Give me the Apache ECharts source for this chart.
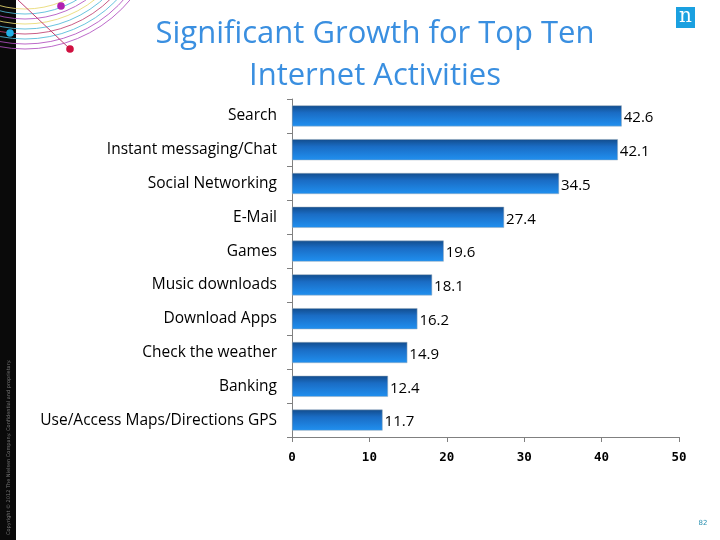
<!DOCTYPE html>
<html><head><meta charset="utf-8">
<script src="https://cdn.jsdelivr.net/npm/echarts@6/dist/echarts.min.js"></script>
<style>html,body{margin:0;padding:0;background:#fff}#c{width:720px;height:540px}</style>
</head><body><div id="c"></div>
<script>
const categories = ["Search","Instant messaging/Chat","Social Networking","E-Mail","Games","Music downloads","Download Apps","Check the weather","Banking","Use/Access Maps/Directions GPS"];
const values = [42.6,42.1,34.5,27.4,19.6,18.1,16.2,14.9,12.4,11.7];
const xTicks = [0,10,20,30,40,50];

const chart = echarts.init(document.getElementById('c'), null, {renderer:'canvas'});
const arcColors = ['#e8d870','#4fb8d8','#b04fc0','#e8d870','#4fb8d8','#c04070','#4fb8d8','#b04fc0','#b04fc0'];
const arcs = arcColors.map((col,i)=>({
  type:'arc', silent:true,
  shape:{cx:25, cy:-88, r:97+i*5, startAngle:0, endAngle:Math.PI},
  style:{stroke:col, lineWidth:1, fill:null, opacity:0.85}
}));
chart.setOption({
  animation:false,
  title:{text:'Significant Growth for Top Ten\nInternet Activities', left:370, top:8, textAlign:'center',
    textStyle:{color:'#3a8fe0', fontSize:31, fontWeight:'normal', fontFamily:'Open Sans', lineHeight:42}},
  grid:{left:292, right:41, top:99, bottom:103},
  xAxis:{type:'value', min:0, max:50, interval:10,
    axisLine:{show:true, lineStyle:{color:'#808080'}},
    axisTick:{show:true, length:5, lineStyle:{color:'#808080'}},
    splitLine:{show:false},
    axisLabel:{color:'#000', fontSize:12.5, fontWeight:'bold', fontFamily:'DejaVu Sans Mono', margin:14,
      formatter:v=>xTicks.includes(v)?String(v):''}},
  yAxis:{type:'category', data:categories, inverse:true,
    axisLine:{show:true, lineStyle:{color:'#808080'}},
    axisTick:{show:true, length:5, lineStyle:{color:'#808080'}},
    axisLabel:{color:'#000', fontSize:15.5, fontFamily:'Open Sans', margin:15, padding:[4,0,0,0]}},
  series:[{type:'bar', data:values, barWidth:21,
    itemStyle:{color:new echarts.graphic.LinearGradient(0,0,0,1,[
      {offset:0,color:'#124c8c'},{offset:0.35,color:'#1a6cc4'},{offset:1,color:'#2090f0'}]),
      borderColor:'#9ab', borderWidth:0.5},
    label:{show:true, position:'right', distance:2, color:'#000', fontSize:15, fontFamily:'Open Sans',
      offset:[0,2], formatter:p=>p.value.toFixed(1)}}],
  graphic:[
    {type:'rect', shape:{x:0,y:0,width:16,height:540}, style:{fill:'#0a0a0a'}, silent:true},
    ...arcs,
    {type:'line', shape:{x1:18,y1:0,x2:70,y2:49}, style:{stroke:'#c04070', lineWidth:1}, silent:true},
    {type:'circle', shape:{cx:61,cy:6,r:3.8}, style:{fill:'#b020b0'}, silent:true},
    {type:'circle', shape:{cx:10,cy:33,r:3.8}, style:{fill:'#20b0e8'}, silent:true},
    {type:'circle', shape:{cx:70,cy:49,r:3.8}, style:{fill:'#d01040'}, silent:true},
    {type:'text', x:9, y:535, rotation:Math.PI/2, silent:true,
      style:{text:'Copyright © 2012 The Nielsen Company. Confidential and proprietary.', fill:'#777', fontSize:5, fontFamily:'DejaVu Sans', textVerticalAlign:'middle'}},
    {type:'rect', shape:{x:676,y:7,width:19,height:21}, style:{fill:'#1aa0e0'}, silent:true},
    {type:'text', x:685.5, y:17, silent:true,
      style:{text:'n', fill:'#fff', fontSize:20, fontFamily:'DejaVu Serif', textAlign:'center', textVerticalAlign:'middle'}},
    {type:'text', x:703, y:523, silent:true,
      style:{text:'82', fill:'#2a90b0', fontSize:7, fontFamily:'DejaVu Sans', textAlign:'center', textVerticalAlign:'middle'}}
  ]
});
</script></body></html>
